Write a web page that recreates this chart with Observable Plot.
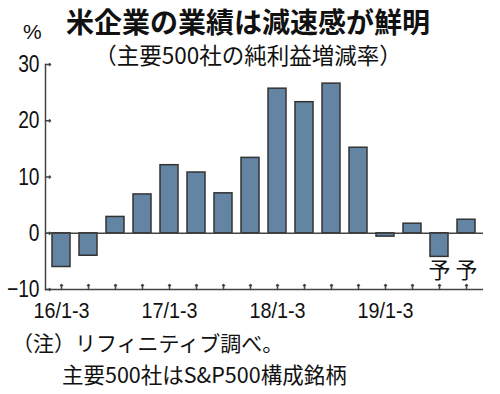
<!DOCTYPE html>
<html>
<head>
<meta charset="utf-8">
<script src="https://cdn.jsdelivr.net/npm/d3@7"></script>
<script src="https://cdn.jsdelivr.net/npm/@observablehq/plot@0.6"></script>
<style>
  html, body { margin: 0; padding: 0; background: #fff; }
  #wrap { position: relative; width: 500px; height: 394px; overflow: hidden; background: #fff; }
  .jp { position: absolute; font-family: "Noto Sans CJK JP", sans-serif; color: #111; white-space: nowrap; line-height: 1; }
  #title { font-size: 28px; font-weight: bold; left: 248px; top: 7px; transform: translateX(-50%); }
  #subtitle { font-size: 22.5px; left: 248px; top: 43px; transform: translateX(-50%); }
  #unit { font-size: 21px; left: 23px; top: 21px; font-family: "Liberation Sans", sans-serif; }
  #note1 { font-size: 21px; left: 12px; top: 332px; }
  #note2 { font-size: 21.5px; left: 62px; top: 363px; }
  #chart { position: absolute; left: 0; top: 0; }
</style>
</head>
<body>
<div id="wrap">
  <div id="chart"></div>
  <div class="jp" id="unit">%</div>
  <div class="jp" id="title">米企業の業績は減速感が鮮明</div>
  <div class="jp" id="subtitle">（主要500社の純利益増減率）</div>
  <div class="jp" id="note1">（注）リフィニティブ調べ。</div>
  <div class="jp" id="note2">主要500社はS&amp;P500構成銘柄</div>
</div>
<script>
const quarters = ["16Q1","16Q2","16Q3","16Q4","17Q1","17Q2","17Q3","17Q4","18Q1","18Q2","18Q3","18Q4","19Q1","19Q2","19Q3","19Q4"];
const values = [-6.0, -4.0, 2.9, 6.9, 12.1, 10.8, 7.1, 13.4, 25.7, 23.3, 26.6, 15.2, -0.6, 1.7, -4.2, 2.4];
const labelQuarters = ["16Q1","17Q1","18Q1","19Q1"];
const labelTexts = ["16/1-3","17/1-3","18/1-3","19/1-3"];
const forecastQuarters = ["19Q3","19Q4"];
const forecastText = "予";
const yTicks = [-10, 0, 10, 20, 30];

const data = quarters.map((q, i) => ({q, v: values[i]}));
const labelMap = new Map(labelQuarters.map((q, i) => [q, labelTexts[i]]));
const axisColor = "#444";
const numFont = "Liberation Sans, Arial, sans-serif";

const chart = Plot.plot({
  width: 500,
  height: 330,
  marginTop: 64,
  marginBottom: 41,
  marginLeft: 45,
  marginRight: 17,
  style: {background: "transparent", color: "#111"},
  x: {type: "band", domain: quarters, paddingInner: 0.33, paddingOuter: 0.26},
  y: {domain: [yTicks[0], yTicks[yTicks.length - 1]]},
  marks: [
    Plot.barY(data, {x: "q", y: "v", fill: "#6384a3", stroke: "#333", strokeWidth: 1.5}),
    Plot.ruleY([0], {stroke: axisColor, strokeWidth: 1.5}),
    Plot.ruleY([yTicks[0]], {stroke: axisColor, strokeWidth: 1.5}),
    Plot.frame({anchor: "left", stroke: axisColor, strokeWidth: 1.5}),
    Plot.vector(quarters, {x: d => d, frameAnchor: "bottom", length: 5, rotate: 0, anchor: "start", stroke: axisColor, strokeWidth: 1.5}),
    Plot.vector(yTicks, {y: d => d, frameAnchor: "left", length: 5, rotate: 90, anchor: "start", stroke: axisColor, strokeWidth: 1.5}),
    Plot.axisY({ticks: yTicks, tickSize: 0, tickPadding: 6, label: null, fontSize: 24, fontFamily: numFont, fill: "#111"}),
    Plot.axisX({ticks: labelQuarters, tickFormat: d => labelMap.get(d), tickSize: 0, tickPadding: 13, label: null, fontSize: 21.5, fontFamily: numFont, fill: "#111"}),
    Plot.text(forecastQuarters, {x: d => d, text: () => forecastText, frameAnchor: "bottom", dy: -12, fontSize: 22, fontFamily: "Noto Sans CJK JP", fill: "#111"})
  ]
});
// condense the numeric tick labels horizontally like the reference's narrow typeface
d3.select(chart).selectAll('[aria-label="y-axis tick label"] text').each(function() {
  const t = this.getAttribute("transform") || "";
  this.setAttribute("transform", t + " scale(0.8,1)");
});
d3.select(chart).selectAll('[aria-label="x-axis tick label"] text').each(function() {
  const t = this.getAttribute("transform") || "";
  this.setAttribute("transform", t + " scale(0.92,1)");
});
document.getElementById("chart").appendChild(chart);
</script>
</body>
</html>
